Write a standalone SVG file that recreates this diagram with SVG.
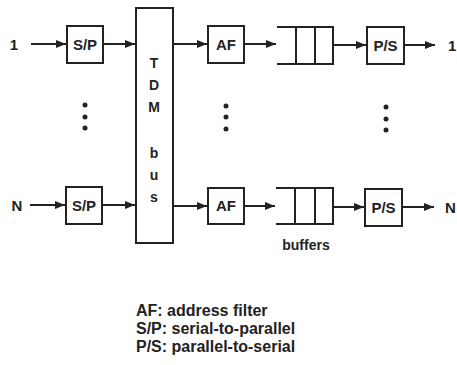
<svg xmlns="http://www.w3.org/2000/svg" width="457" height="365" viewBox="0 0 457 365">
<defs>
<marker id="ah" markerWidth="10" markerHeight="8" refX="10" refY="4" orient="auto" markerUnits="userSpaceOnUse">
<path d="M0,0 L10,4 L0,8 Z" fill="#222"/>
</marker>
<style>
.box{fill:#fff;stroke:#222;stroke-width:2}
.ln{stroke:#222;stroke-width:2;fill:none}
.ar{stroke:#222;stroke-width:2;fill:none;marker-end:url(#ah)}
.t{font-family:"Liberation Sans",Arial,sans-serif;font-weight:bold;fill:#222}
.lb{font-size:15px;text-anchor:middle}
.dot{fill:#222}
</style>
</defs>
<rect width="457" height="365" fill="#fff"/>
<g id="in1"><text class="t" x="14" y="50" font-size="15" text-anchor="middle">1</text></g>
<g id="inN"><text class="t" x="17" y="211" font-size="15" text-anchor="middle">N</text></g>
<g id="sp1"><rect class="box" x="67" y="26" width="36" height="37"/><text class="t lb" x="85" y="50">S/P</text></g>
<g id="spN"><rect class="box" x="66" y="187" width="36" height="37"/><text class="t lb" x="84" y="211">S/P</text></g>
<g id="bus"><rect class="box" x="136" y="8" width="37" height="235"/>
<g class="t" font-size="14" text-anchor="middle">
<text x="154" y="68">T</text><text x="154" y="90">D</text><text x="154" y="112">M</text>
<text x="154" y="158">b</text><text x="154" y="180">u</text><text x="154" y="202">s</text>
</g></g>
<g id="af1"><rect class="box" x="208" y="26" width="36" height="37"/><text class="t lb" x="226" y="50">AF</text></g>
<g id="afN"><rect class="box" x="208" y="188" width="36" height="36"/><text class="t lb" x="226" y="211">AF</text></g>
<g id="buf1"><path class="ln" d="M277,27 H333 V64 H277 M296,27 V64 M315,27 V64"/></g>
<g id="bufN"><path class="ln" d="M276,188 H333 V224 H276 M295,188 V224 M315,188 V224"/>
<text class="t" x="306" y="250" font-size="14" text-anchor="middle">buffers</text></g>
<g id="ps1"><rect class="box" x="367" y="27" width="37" height="37"/><text class="t lb" x="385.5" y="51">P/S</text></g>
<g id="psN"><rect class="box" x="365" y="189" width="37" height="37"/><text class="t lb" x="383.5" y="213">P/S</text></g>
<g id="out1"><text class="t" x="448" y="51" font-size="15">1</text></g>
<g id="outN"><text class="t" x="445" y="213" font-size="15">N</text></g>
<g id="dots">
<circle class="dot" cx="85" cy="105" r="2.5"/><circle class="dot" cx="85" cy="117" r="2.5"/><circle class="dot" cx="85" cy="128" r="2.5"/>
<circle class="dot" cx="226" cy="106" r="2.5"/><circle class="dot" cx="226" cy="117" r="2.5"/><circle class="dot" cx="226" cy="129" r="2.5"/>
<circle class="dot" cx="386" cy="107" r="2.5"/><circle class="dot" cx="386" cy="119" r="2.5"/><circle class="dot" cx="386" cy="130" r="2.5"/>
</g>
<g id="connectors">
<line class="ar" x1="31" y1="44" x2="66" y2="44"/>
<line class="ar" x1="103" y1="44" x2="135" y2="44"/>
<line class="ar" x1="173" y1="44" x2="207" y2="44"/>
<line class="ar" x1="244" y1="44" x2="276" y2="44"/>
<line class="ar" x1="333" y1="45" x2="366" y2="45"/>
<line class="ar" x1="404" y1="45" x2="435" y2="45"/>
<line class="ar" x1="30" y1="205" x2="65" y2="205"/>
<line class="ar" x1="102" y1="205" x2="135" y2="205"/>
<line class="ar" x1="173" y1="206" x2="207" y2="206"/>
<line class="ar" x1="244" y1="206" x2="275" y2="206"/>
<line class="ar" x1="333" y1="207" x2="364" y2="207"/>
<line class="ar" x1="402" y1="207" x2="434" y2="207"/>
</g>
<g id="legend" class="t" font-size="16">
<text x="136" y="316">AF: address filter</text>
<text x="136" y="334">S/P: serial-to-parallel</text>
<text x="136" y="352">P/S: parallel-to-serial</text>
</g>
</svg>
